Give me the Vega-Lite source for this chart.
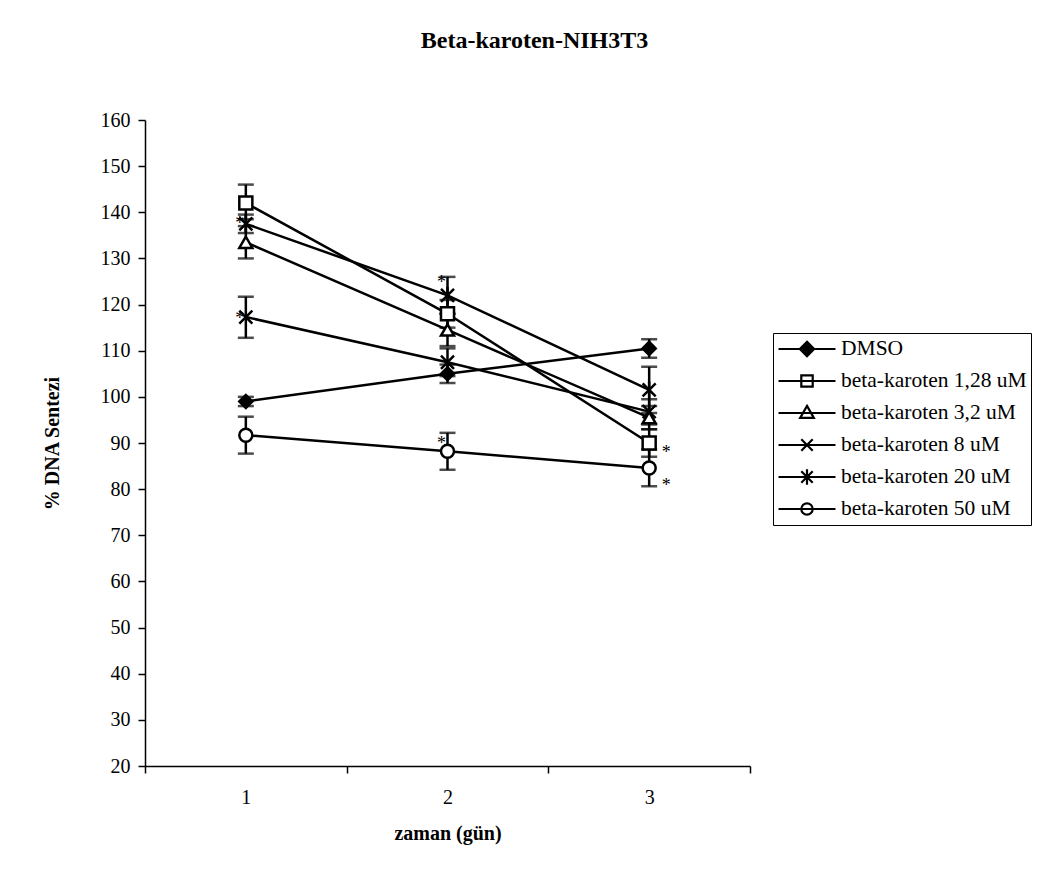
{
  "$schema": "https://vega.github.io/schema/vega-lite/v6.json",
  "width": 605,
  "height": 646,
  "autosize": {"type": "none"},
  "padding": {"left": 145, "top": 120, "right": 296, "bottom": 113},
  "background": "white",
  "config": {
    "view": {"stroke": null},
    "font": "Liberation Serif",
    "axis": {"grid": false, "domainColor": "black", "domainWidth": 1.5, "tickColor": "black", "tickWidth": 1.5, "labelColor": "black", "titleColor": "black", "labelFont": "Liberation Serif", "titleFont": "Liberation Serif"}
  },
  "title": {"text": "Beta-karoten-NIH3T3", "font": "Liberation Serif", "fontSize": 24, "fontWeight": "bold", "color": "black", "anchor": "middle", "dx": 87, "offset": 57},
  "datasets": {
    "pts": [
      {"gun": "1", "seri": "DMSO", "deger": 99, "alt": 98, "ust": 100},
      {"gun": "2", "seri": "DMSO", "deger": 105, "alt": 103, "ust": 107},
      {"gun": "3", "seri": "DMSO", "deger": 110.5, "alt": 108.5, "ust": 112.5},
      {"gun": "1", "seri": "beta-karoten 1,28 uM", "deger": 142, "alt": 138.5, "ust": 146},
      {"gun": "2", "seri": "beta-karoten 1,28 uM", "deger": 118, "alt": 115, "ust": 121},
      {"gun": "3", "seri": "beta-karoten 1,28 uM", "deger": 90, "alt": 87, "ust": 93},
      {"gun": "1", "seri": "beta-karoten 3,2 uM", "deger": 133.5, "alt": 130, "ust": 137},
      {"gun": "2", "seri": "beta-karoten 3,2 uM", "deger": 114.5, "alt": 111, "ust": 118},
      {"gun": "3", "seri": "beta-karoten 3,2 uM", "deger": 95.5, "alt": 93, "ust": 98},
      {"gun": "1", "seri": "beta-karoten 8 uM", "deger": 117.3, "alt": 112.8, "ust": 121.7},
      {"gun": "2", "seri": "beta-karoten 8 uM", "deger": 107.5, "alt": 104.5, "ust": 110.5},
      {"gun": "3", "seri": "beta-karoten 8 uM", "deger": 96.8, "alt": 94, "ust": 99.5},
      {"gun": "1", "seri": "beta-karoten 20 uM", "deger": 137.5, "alt": 135.5, "ust": 139.5},
      {"gun": "2", "seri": "beta-karoten 20 uM", "deger": 122, "alt": 118, "ust": 126},
      {"gun": "3", "seri": "beta-karoten 20 uM", "deger": 101.5, "alt": 96.5, "ust": 106.5},
      {"gun": "1", "seri": "beta-karoten 50 uM", "deger": 91.7, "alt": 87.7, "ust": 95.7},
      {"gun": "2", "seri": "beta-karoten 50 uM", "deger": 88.2, "alt": 84.2, "ust": 92.2},
      {"gun": "3", "seri": "beta-karoten 50 uM", "deger": 84.6, "alt": 80.6, "ust": 88.6}
    ],
    "stars": [
      {"gun": "1", "deger": 138.8, "yon": "sol"},
      {"gun": "1", "deger": 118.2, "yon": "sol"},
      {"gun": "2", "deger": 126, "yon": "sol"},
      {"gun": "2", "deger": 91.1, "yon": "sol"},
      {"gun": "3", "deger": 89.1, "yon": "sag"},
      {"gun": "3", "deger": 82, "yon": "sag"}
    ]
  },
  "encoding": {
    "x": {
      "field": "gun", "type": "ordinal",
      "scale": {"type": "band", "domain": ["1", "2", "3"], "paddingInner": 0, "paddingOuter": 0},
      "axis": {"title": "zaman (gün)", "titleFontSize": 20, "titleFontWeight": "bold", "titlePadding": 16, "labelFontSize": 20, "labelAngle": 0, "labelPadding": 14, "tickBand": "extent", "tickSize": 7}
    },
    "y": {
      "field": "deger", "type": "quantitative",
      "scale": {"domain": [20, 160], "nice": false, "zero": false},
      "axis": {"title": "% DNA Sentezi", "titleFontSize": 20, "titleFontWeight": "bold", "titlePadding": 38, "labelFontSize": 20, "labelPadding": 8, "tickSize": 7, "values": [20, 30, 40, 50, 60, 70, 80, 90, 100, 110, 120, 130, 140, 150, 160]}
    }
  },
  "layer": [
    {
      "data": {"name": "pts"},
      "mark": {"type": "line", "color": "black", "strokeWidth": 2.5},
      "encoding": {"detail": {"field": "seri"}}
    },
    {
      "data": {"name": "pts"},
      "mark": {"type": "rule", "color": "black", "strokeWidth": 2.5},
      "encoding": {"y": {"field": "alt", "type": "quantitative"}, "y2": {"field": "ust"}}
    },
    {
      "data": {"name": "pts"},
      "mark": {"type": "tick", "color": "black", "thickness": 2.5, "size": 16, "orient": "horizontal"},
      "encoding": {"y": {"field": "alt", "type": "quantitative"}}
    },
    {
      "data": {"name": "pts"},
      "mark": {"type": "tick", "color": "black", "thickness": 2.5, "size": 16, "orient": "horizontal"},
      "encoding": {"y": {"field": "ust", "type": "quantitative"}}
    },
    {
      "data": {"name": "pts"},
      "mark": {"type": "point", "filled": true, "stroke": "black", "strokeWidth": 2.5, "size": 170, "opacity": 1, "fillOpacity": 1},
      "encoding": {
        "shape": {"field": "seri", "type": "nominal", "legend": null,
          "scale": {"domain": ["DMSO", "beta-karoten 1,28 uM", "beta-karoten 3,2 uM", "beta-karoten 8 uM", "beta-karoten 20 uM", "beta-karoten 50 uM"],
            "range": ["diamond", "square", "triangle-up", "M-1,-1L1,1M-1,1L1,-1", "M-1,-1L1,1M-1,1L1,-1M0,-1.3V1.3", "circle"]}},
        "fill": {"field": "seri", "type": "nominal", "legend": null,
          "scale": {"domain": ["DMSO", "beta-karoten 1,28 uM", "beta-karoten 3,2 uM", "beta-karoten 8 uM", "beta-karoten 20 uM", "beta-karoten 50 uM"],
            "range": ["black", "white", "white", "white", "white", "white"]}}
      }
    },
    {
      "data": {"name": "pts"},
      "mark": {"type": "point", "filled": true, "strokeWidth": 2, "size": 10, "opacity": 0},
      "encoding": {
        "shape": {"field": "seri", "type": "nominal",
          "scale": {"domain": ["DMSO", "beta-karoten 1,28 uM", "beta-karoten 3,2 uM", "beta-karoten 8 uM", "beta-karoten 20 uM", "beta-karoten 50 uM"],
            "range": [
              "M-1,0H1M0,-0.25L0.25,0L0,0.25L-0.25,0Z",
              "M-1,0H1M-0.2,-0.2H0.2V0.2H-0.2Z",
              "M-1,0H1M0,-0.25L0.24,0.17H-0.24Z",
              "M-1,0H1M-0.2,-0.2L0.2,0.2M-0.2,0.2L0.2,-0.2",
              "M-1,0H1M-0.2,-0.2L0.2,0.2M-0.2,0.2L0.2,-0.2M0,-0.27V0.27",
              "M-1,0H1M0.2,0A0.2,0.2,0,1,1,-0.2,0A0.2,0.2,0,1,1,0.2,0Z"
            ]},
          "legend": {"title": null, "orient": "none", "legendX": 628, "legendY": 213, "strokeColor": "black", "fillColor": "white", "padding": 4, "symbolSize": 3249, "clipHeight": 24, "rowPadding": 8, "labelFontSize": 21.5, "labelFont": "Liberation Serif", "labelColor": "black", "labelOffset": 4, "labelLimit": 400, "symbolStrokeWidth": 2.2, "symbolOpacity": 1}},
        "fill": {"field": "seri", "type": "nominal",
          "scale": {"domain": ["DMSO", "beta-karoten 1,28 uM", "beta-karoten 3,2 uM", "beta-karoten 8 uM", "beta-karoten 20 uM", "beta-karoten 50 uM"],
            "range": ["black", "white", "white", "white", "white", "white"]},
          "legend": {"title": null, "orient": "none", "legendX": 628, "legendY": 213, "strokeColor": "black", "fillColor": "white", "padding": 4, "symbolSize": 3249, "clipHeight": 24, "rowPadding": 8, "labelFontSize": 21.5, "labelFont": "Liberation Serif", "labelColor": "black", "labelOffset": 4, "labelLimit": 400, "symbolStrokeWidth": 2.2, "symbolOpacity": 1}},
        "stroke": {"field": "seri", "type": "nominal",
          "scale": {"domain": ["DMSO", "beta-karoten 1,28 uM", "beta-karoten 3,2 uM", "beta-karoten 8 uM", "beta-karoten 20 uM", "beta-karoten 50 uM"],
            "range": ["black", "black", "black", "black", "black", "black"]},
          "legend": {"title": null, "orient": "none", "legendX": 628, "legendY": 213, "strokeColor": "black", "fillColor": "white", "padding": 4, "symbolSize": 3249, "clipHeight": 24, "rowPadding": 8, "labelFontSize": 21.5, "labelFont": "Liberation Serif", "labelColor": "black", "labelOffset": 4, "labelLimit": 400, "symbolStrokeWidth": 2.2, "symbolOpacity": 1}}
      }
    },
    {
      "data": {"name": "stars"},
      "transform": [{"filter": "datum.yon == 'sol'"}],
      "mark": {"type": "text", "text": "*", "font": "Liberation Serif", "fontSize": 18, "color": "black", "dx": -6, "dy": 6, "baseline": "middle"}
    },
    {
      "data": {"name": "stars"},
      "transform": [{"filter": "datum.yon == 'sag'"}],
      "mark": {"type": "text", "text": "*", "font": "Liberation Serif", "fontSize": 18, "color": "black", "dx": 17, "dy": 6, "baseline": "middle"}
    }
  ],
  "resolve": {"scale": {"shape": "independent", "fill": "independent", "stroke": "independent"}}
}
